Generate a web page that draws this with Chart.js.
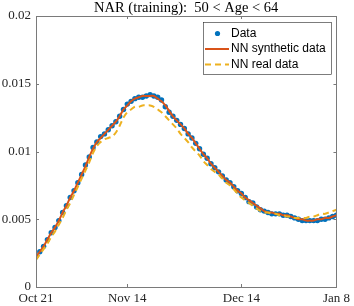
<!DOCTYPE html>
<html>
<head>
<meta charset="utf-8">
<script src="https://cdn.jsdelivr.net/npm/chart.js@4/dist/chart.umd.min.js"></script>
<style>
  html, body { margin: 0; padding: 0; background: #fff; }
  #wrap { width: 354px; height: 306px; }
</style>
</head>
<body>
<div id="wrap"><canvas id="narChart" width="354" height="306"></canvas></div>
<script>
// days since Oct 21 (0 .. 79 = Jan 8)
const tickDays = [0, 24, 54, 79];
const tickLabels = ["Oct 21", "Nov 14", "Dec 14", "Jan 8"];
const yTicks = [0, 0.005, 0.01, 0.015, 0.02];

const dataVals = [
  0.00228, 0.0026, 0.0030, 0.0035, 0.0040, 0.0044, 0.0049, 0.0055, 0.0060, 0.0066,
  0.0071, 0.0077, 0.0083, 0.0090, 0.0096, 0.0103, 0.0107, 0.0111, 0.0113, 0.0116,
  0.0119, 0.0122, 0.0126, 0.0131, 0.0135, 0.0137, 0.0139, 0.0140, 0.0140, 0.0141,
  0.0142, 0.0141, 0.0140, 0.0138, 0.0133, 0.0129, 0.0126, 0.0123, 0.0120, 0.0117,
  0.0113, 0.0110, 0.0106, 0.0102, 0.0098, 0.0095, 0.0091, 0.0088, 0.0085, 0.0082,
  0.0079, 0.0077, 0.0074, 0.0071, 0.0069, 0.0066, 0.0063, 0.0062, 0.0059, 0.0057,
  0.0056, 0.0055, 0.0054, 0.0054, 0.0054, 0.0053, 0.0053, 0.0052, 0.0051, 0.0050,
  0.0049, 0.0049, 0.0049, 0.0049, 0.0049, 0.0050, 0.0050, 0.0051, 0.0052, 0.0053
];

const synthVals = [
  0.00225, 0.0026, 0.0030, 0.0035, 0.0040, 0.0044, 0.0049, 0.0055, 0.0060, 0.0066,
  0.0071, 0.0077, 0.0083, 0.0089, 0.0096, 0.0102, 0.0107, 0.0110, 0.0113, 0.0116,
  0.0119, 0.0122, 0.0126, 0.0131, 0.0134, 0.0137, 0.0139, 0.0140, 0.0141, 0.0141,
  0.0141, 0.0141, 0.0139, 0.0137, 0.0134, 0.0130, 0.0126, 0.0123, 0.0120, 0.0117,
  0.0113, 0.0110, 0.0106, 0.0102, 0.0098, 0.0095, 0.0091, 0.0088, 0.0085, 0.0082,
  0.0079, 0.0077, 0.0074, 0.0071, 0.0069, 0.0066, 0.0064, 0.0062, 0.0060, 0.0058,
  0.0056, 0.0055, 0.0055, 0.0054, 0.0054, 0.0053, 0.0053, 0.0052, 0.0051, 0.0050,
  0.0050, 0.0049, 0.0049, 0.0049, 0.0050, 0.0050, 0.0051, 0.0051, 0.0052, 0.0053
];

const realVals = [
  0.0020, 0.0024, 0.0028, 0.0032, 0.0037, 0.0041, 0.0046, 0.0051, 0.0057, 0.0062,
  0.0068, 0.0074, 0.0080, 0.0086, 0.0092, 0.0099, 0.0104, 0.0107, 0.0109, 0.0110,
  0.0111, 0.0114, 0.0119, 0.0125, 0.0129, 0.0131, 0.0133, 0.0133, 0.0134, 0.0134,
  0.0134, 0.0133, 0.0131, 0.0129, 0.0126, 0.0123, 0.0120, 0.0117, 0.0113, 0.0110,
  0.0107, 0.0103, 0.0100, 0.0097, 0.0093, 0.0090, 0.0087, 0.0085, 0.0083, 0.0080,
  0.0077, 0.0075, 0.0072, 0.0069, 0.0066, 0.0064, 0.0062, 0.0060, 0.0058, 0.0056,
  0.0055, 0.0055, 0.0054, 0.0054, 0.0053, 0.0053, 0.0052, 0.0052, 0.0051, 0.0051,
  0.0051, 0.0051, 0.0052, 0.0052, 0.0053, 0.0054, 0.0054, 0.0055, 0.0056, 0.0057
];

const toXY = arr => arr.map((v, i) => ({ x: i, y: v }));

const BLUE = "#0072BD", ORANGE = "#D95319", YELLOW = "#EDB120";
const AXIS = "#7a7a7a";
const SERIF = "'Liberation Serif', 'DejaVu Serif', serif";
const SANS = "'Liberation Sans', Arial, sans-serif";

// box, inward ticks, title and legend in MATLAB style
const matlabAxes = {
  id: "matlabAxes",
  afterDraw(chart) {
    const { ctx, chartArea: a, scales } = chart;
    const xs = scales.x, ys = scales.y;
    ctx.save();
    ctx.strokeStyle = AXIS;
    ctx.lineWidth = 1;
    ctx.strokeRect(Math.round(a.left) + 0.5, Math.round(a.top) + 0.5,
      Math.round(a.right - a.left), Math.round(a.bottom - a.top));
    const tl = 3;
    ctx.beginPath();
    tickDays.forEach(d => {
      const px = Math.round(xs.getPixelForValue(d)) + 0.5;
      ctx.moveTo(px, a.bottom); ctx.lineTo(px, a.bottom - tl);
      ctx.moveTo(px, a.top); ctx.lineTo(px, a.top + tl);
    });
    yTicks.forEach(v => {
      const py = Math.round(ys.getPixelForValue(v)) + 0.5;
      ctx.moveTo(a.left, py); ctx.lineTo(a.left + tl, py);
      ctx.moveTo(a.right, py); ctx.lineTo(a.right - tl, py);
    });
    ctx.stroke();

    // title
    ctx.fillStyle = "#000";
    ctx.font = "14.5px " + SERIF;
    ctx.textAlign = "center";
    ctx.textBaseline = "middle";
    ctx.fillText("NAR (training):  50 < Age < 64", (a.left + a.right) / 2, 8);

    // legend
    const lx = 203.5, ly = 22.5, lw = 128, lh = 52;
    ctx.fillStyle = "#fff";
    ctx.fillRect(lx, ly, lw, lh);
    ctx.strokeStyle = "#262626";
    ctx.lineWidth = 0.6;
    ctx.strokeRect(lx, ly, lw, lh);
    const rows = [33.5, 49, 64.5];
    ctx.fillStyle = BLUE;
    ctx.beginPath(); ctx.arc(217.5, rows[0], 2.6, 0, Math.PI * 2); ctx.fill();
    ctx.lineWidth = 2;
    ctx.strokeStyle = ORANGE;
    ctx.beginPath(); ctx.moveTo(205, rows[1]); ctx.lineTo(229, rows[1]); ctx.stroke();
    ctx.strokeStyle = YELLOW;
    ctx.setLineDash([6, 4]);
    ctx.beginPath(); ctx.moveTo(205, rows[2]); ctx.lineTo(229, rows[2]); ctx.stroke();
    ctx.setLineDash([]);
    ctx.fillStyle = "#000";
    ctx.font = "12px " + SANS;
    ctx.textAlign = "left";
    ctx.fillText("Data", 231, rows[0]);
    ctx.fillText("NN synthetic data", 231, rows[1]);
    ctx.fillText("NN real data", 231, rows[2]);
    ctx.restore();
  }
};

new Chart(document.getElementById("narChart"), {
  type: "line",
  data: {
    datasets: [
      {
        label: "Data",
        data: toXY(dataVals),
        showLine: false,
        pointRadius: 2.7,
        pointBackgroundColor: BLUE,
        pointBorderWidth: 0,
        order: 3
      },
      {
        label: "NN synthetic data",
        data: toXY(synthVals),
        borderColor: ORANGE,
        borderWidth: 2,
        pointRadius: 0,
        tension: 0.3,
        order: 2
      },
      {
        label: "NN real data",
        data: toXY(realVals),
        borderColor: YELLOW,
        borderWidth: 2,
        borderDash: [6, 4],
        pointRadius: 0,
        tension: 0.3,
        order: 1
      }
    ]
  },
  options: {
    responsive: false,
    animation: false,
    layout: { padding: { top: 16, right: 16, left: 0, bottom: 0 } },
    plugins: { legend: { display: false }, title: { display: false }, tooltip: { enabled: false } },
    scales: {
      x: {
        type: "linear",
        min: 0,
        max: 79,
        afterBuildTicks: s => { s.ticks = tickDays.map(v => ({ value: v })); },
        afterFit: s => { s.height = 19; },
        grid: { display: false, drawTicks: false },
        border: { display: false },
        ticks: {
          autoSkip: false,
          maxRotation: 0,
          padding: 4,
          color: "#262626",
          font: { family: SERIF, size: 13 },
          callback: v => tickLabels[tickDays.indexOf(v)]
        }
      },
      y: {
        min: 0,
        max: 0.02,
        afterBuildTicks: s => { s.ticks = yTicks.map(v => ({ value: v })); },
        afterFit: s => { s.width = 36; },
        grid: { display: false, drawTicks: false },
        border: { display: false },
        ticks: {
          padding: 5,
          color: "#262626",
          font: { family: SERIF, size: 13 },
          callback: v => String(+v.toFixed(3))
        }
      }
    }
  },
  plugins: [matlabAxes]
});
</script>
</body>
</html>
